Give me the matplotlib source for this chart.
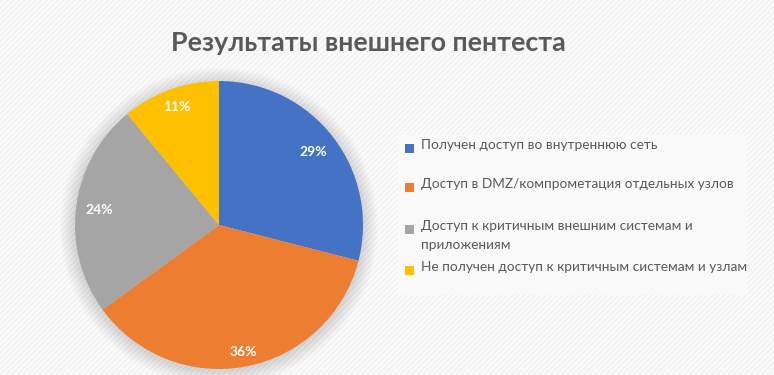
import matplotlib
matplotlib.use("Agg")
import matplotlib.pyplot as plt
from matplotlib.patches import Rectangle, Circle
import numpy as np

title = "Результаты внешнего пентеста"
categories = [
    "Получен доступ во внутреннюю сеть",
    "Доступ в DMZ/компрометация отдельных узлов",
    "Доступ к критичным внешним системам и\nприложениям",
    "Не получен доступ к критичным системам и узлам",
]
values = [29, 36, 24, 11]
colors = ["#4472C4", "#ED7D31", "#A5A5A5", "#FFC000"]
label_dist = [0.83, 0.90, 0.84, 0.87]

W, H = 774, 375
fig = plt.figure(figsize=(W / 100, H / 100), dpi=100)
fig.patch.set_facecolor("#f4f4f4")
plt.rcParams["font.family"] = ["Lato", "DejaVu Sans"]
text_color = "#595959"

# background hatch
bg = fig.add_axes([0, 0, 1, 1])
bg.set_xlim(0, W); bg.set_ylim(H, 0); bg.axis("off")
bg.add_patch(Rectangle((0, 0), W, H, facecolor="#f3f3f3", edgecolor="white",
                       hatch="//////", linewidth=0))
# legend panel
bg.add_patch(Rectangle((398, 135), 349, 160, facecolor="#fafafa", edgecolor="none", alpha=0.9))

# pie shadow
cx, cy, r = 219, 225, 144
for i in range(12):
    bg.add_patch(Circle((cx, cy + 2), r + 1 + i * 1.3, facecolor="#000000",
                        alpha=0.012, edgecolor="none"))

ax = fig.add_axes([(cx - r) / W, (H - cy - r) / H, 2 * r / W, 2 * r / H])
wedges, texts, autotexts = ax.pie(values, colors=colors, startangle=90, counterclock=False,
                                  autopct=lambda p: f"{p:.0f}%", pctdistance=0.85,
                                  wedgeprops=dict(linewidth=0))
for t, d in zip(autotexts, label_dist):
    x, y = t.get_position()
    s = d / 0.85
    t.set_position((x * s, y * s))
    t.set_color("white"); t.set_fontweight("bold"); t.set_fontsize(10)
ax.set_xlim(-1, 1); ax.set_ylim(-1, 1)
ax.set_aspect("equal")

fig.text(368 / W, 1 - 43 / H, title, ha="center", va="center", fontsize=19.3,
         fontweight="bold", color=text_color)

# legend
ys = [148, 187, 229, 270]
for lab, c, y in zip(categories, colors, ys):
    bg.add_patch(Rectangle((405, y - 4.5), 9, 9, facecolor=c, edgecolor="none"))
    bg.text(421, y - 9, lab, ha="left", va="top", fontsize=9.8, color=text_color,
            linespacing=1.7)

fig.savefig("out.png", dpi=100, facecolor=fig.get_facecolor())
